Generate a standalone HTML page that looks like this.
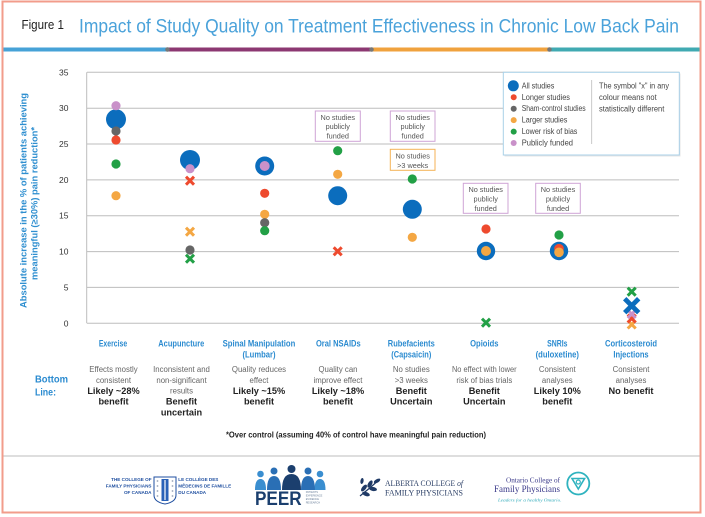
<!DOCTYPE html>
<html><head><meta charset="utf-8"><style>
html,body{margin:0;padding:0;background:#fff;}
svg{display:block;}
text{font-family:"Liberation Sans",sans-serif;}
text.serif{font-family:"Liberation Serif",serif;}
</style></head><body>
<svg width="705" height="517" viewBox="0 0 705 517" xmlns="http://www.w3.org/2000/svg">
<rect x="0" y="0" width="705" height="517" fill="#fff"/>
<!-- frame -->
<rect x="2.5" y="1.5" width="698" height="511" fill="none" stroke="#f29c8b" stroke-width="2"/>
<!-- title -->
<text x="21.5" y="29" font-size="12.5" fill="#222" textLength="42.5" lengthAdjust="spacingAndGlyphs">Figure 1</text>
<text x="79" y="32.5" font-size="19.5" fill="#4aa2da" textLength="600" lengthAdjust="spacingAndGlyphs">Impact of Study Quality on Treatment Effectiveness in Chronic Low Back Pain</text>
<!-- colour band -->
<rect x="3.5" y="47.5" width="164" height="4" fill="#46a2d7"/>
<rect x="167.5" y="47.5" width="204" height="4" fill="#8c3872"/>
<rect x="371.5" y="47.5" width="178" height="4" fill="#f0a23d"/>
<rect x="549.5" y="47.5" width="150" height="4" fill="#40aab2"/>
<circle cx="167.5" cy="49.5" r="2.3" fill="#777"/>
<circle cx="371.5" cy="49.5" r="2.3" fill="#777"/>
<circle cx="549.5" cy="49.5" r="2.3" fill="#777"/>

<!-- gridlines -->
<g stroke="#bdbdbd" stroke-width="1">
<line x1="87" y1="72.3" x2="679" y2="72.3"/>
<line x1="87" y1="108.2" x2="679" y2="108.2"/>
<line x1="87" y1="144.0" x2="679" y2="144.0"/>
<line x1="87" y1="179.9" x2="679" y2="179.9"/>
<line x1="87" y1="215.7" x2="679" y2="215.7"/>
<line x1="87" y1="251.6" x2="679" y2="251.6"/>
<line x1="87" y1="287.4" x2="679" y2="287.4"/>
<line x1="87" y1="323.3" x2="679" y2="323.3"/>
<line x1="86.7" y1="72.3" x2="86.7" y2="323.3"/>
</g>
<!-- tick labels -->
<g font-size="8.5" fill="#333" text-anchor="end" dominant-baseline="central">
<text x="68.5" y="72.3">35</text>
<text x="68.5" y="108.2">30</text>
<text x="68.5" y="144.0">25</text>
<text x="68.5" y="179.9">20</text>
<text x="68.5" y="215.7">15</text>
<text x="68.5" y="251.6">10</text>
<text x="68.5" y="287.4">5</text>
<text x="68.5" y="323.3">0</text>
</g>
<!-- y axis title -->
<g font-size="9.5" font-weight="bold" fill="#2f8fd0" text-anchor="middle" dominant-baseline="central">
<text transform="translate(24,200.5) rotate(-90)" textLength="215" lengthAdjust="spacingAndGlyphs">Absolute increase in the % of patients achieving</text>
<text transform="translate(35,203.5) rotate(-90)" textLength="153" lengthAdjust="spacingAndGlyphs">meaningful (≥30%) pain reduction*</text>
</g>

<!-- legend -->
<rect x="504.5" y="73.5" width="176" height="83" fill="#e6e6e6"/>
<rect x="503.3" y="72.3" width="176" height="82.7" fill="#fff" stroke="#a9d0e8" stroke-width="1"/>
<circle cx="513.3" cy="85.8" r="5.5" fill="#0b6dbd"/>
<circle cx="513.7" cy="97.3" r="3" fill="#ee4a2e"/>
<circle cx="513.7" cy="108.7" r="3" fill="#666"/>
<circle cx="513.7" cy="120.1" r="3" fill="#f4a743"/>
<circle cx="513.7" cy="131.6" r="3" fill="#22a046"/>
<circle cx="513.7" cy="143" r="3" fill="#c991c9"/>
<g font-size="8" fill="#444" dominant-baseline="central">
<text x="521.7" y="85.8" textLength="32.7" lengthAdjust="spacingAndGlyphs">All studies</text>
<text x="521.7" y="97.3" textLength="48.3" lengthAdjust="spacingAndGlyphs">Longer studies</text>
<text x="521.7" y="108.7" textLength="64" lengthAdjust="spacingAndGlyphs">Sham-control studies</text>
<text x="521.7" y="120.1" textLength="45.7" lengthAdjust="spacingAndGlyphs">Larger studies</text>
<text x="521.7" y="131.6" textLength="55.7" lengthAdjust="spacingAndGlyphs">Lower risk of bias</text>
<text x="521.7" y="143" textLength="51.3" lengthAdjust="spacingAndGlyphs">Publicly funded</text>
<text x="599" y="86" textLength="70" lengthAdjust="spacingAndGlyphs">The symbol "x" in any</text>
<text x="599" y="97.5" textLength="57.7" lengthAdjust="spacingAndGlyphs">colour means not</text>
<text x="599" y="109" textLength="65.3" lengthAdjust="spacingAndGlyphs">statistically different</text>
</g>
<line x1="591.7" y1="80" x2="591.7" y2="144" stroke="#bbb" stroke-width="0.8"/>

<!-- note boxes -->
<g fill="#fff" stroke-width="1">
<rect x="315.3" y="111" width="45" height="30.3" stroke="#cfa4d6"/>
<rect x="390.3" y="111" width="44.7" height="30.3" stroke="#cfa4d6"/>
<rect x="390.3" y="149.3" width="44.7" height="21" stroke="#f4b256"/>
<rect x="463.3" y="183.3" width="44.7" height="30" stroke="#cfa4d6"/>
<rect x="535.7" y="183.3" width="44.6" height="30" stroke="#cfa4d6"/>
</g>
<g font-size="7.3" fill="#555" text-anchor="middle" dominant-baseline="central">
<text x="337.8" y="117.3">No studies</text><text x="337.8" y="126.7">publicly</text><text x="337.8" y="136">funded</text>
<text x="412.7" y="117.3">No studies</text><text x="412.7" y="126.7">publicly</text><text x="412.7" y="136">funded</text>
<text x="412.7" y="156">No studies</text><text x="412.7" y="165.3">&gt;3 weeks</text>
<text x="485.7" y="189.6">No studies</text><text x="485.7" y="199">publicly</text><text x="485.7" y="208.3">funded</text>
<text x="558" y="189.6">No studies</text><text x="558" y="199">publicly</text><text x="558" y="208.3">funded</text>
</g>

<!-- data: Exercise -->
<circle cx="116" cy="119.3" r="10" fill="#0b6dbd"/>
<circle cx="116" cy="105.7" r="4.6" fill="#c991c9"/>
<circle cx="116" cy="131" r="4.6" fill="#666"/>
<circle cx="116" cy="140" r="4.6" fill="#ee4a2e"/>
<circle cx="116" cy="164" r="4.6" fill="#22a046"/>
<circle cx="116" cy="195.7" r="4.6" fill="#f4a743"/>
<!-- Acupuncture -->
<circle cx="190" cy="160" r="10" fill="#0b6dbd"/>
<circle cx="190" cy="168.7" r="4.6" fill="#c991c9"/>
<g stroke-width="3" stroke-linecap="butt">
<path d="M186,176.7 L194,184.7 M194,176.7 L186,184.7" stroke="#ee4a2e"/>
<path d="M186,227.7 L194,235.7 M194,227.7 L186,235.7" stroke="#f4a743"/>
</g>
<circle cx="190" cy="250" r="4.6" fill="#666"/>
<path d="M186,254.7 L194,262.7 M194,254.7 L186,262.7" stroke="#22a046" stroke-width="3"/>
<!-- Spinal manipulation -->
<circle cx="264.7" cy="166" r="9.5" fill="#0b6dbd"/>
<circle cx="264.7" cy="166" r="5" fill="#c991c9"/>
<circle cx="264.7" cy="193.3" r="4.6" fill="#ee4a2e"/>
<circle cx="264.7" cy="214.3" r="4.6" fill="#f4a743"/>
<circle cx="264.7" cy="222.7" r="4.6" fill="#666"/>
<circle cx="264.7" cy="230.7" r="4.6" fill="#22a046"/>
<!-- Oral NSAIDs -->
<circle cx="337.7" cy="150.7" r="4.6" fill="#22a046"/>
<circle cx="337.7" cy="174.3" r="4.6" fill="#f4a743"/>
<circle cx="337.7" cy="195.7" r="9.5" fill="#0b6dbd"/>
<path d="M333.7,247.3 L341.7,255.3 M341.7,247.3 L333.7,255.3" stroke="#ee4a2e" stroke-width="3"/>
<!-- Rubefacients -->
<circle cx="412.3" cy="179" r="4.6" fill="#22a046"/>
<circle cx="412.3" cy="209.3" r="9.5" fill="#0b6dbd"/>
<circle cx="412.3" cy="237.3" r="4.6" fill="#f4a743"/>
<!-- Opioids -->
<circle cx="486" cy="229" r="4.6" fill="#ee4a2e"/>
<circle cx="486" cy="251" r="9.2" fill="#0b6dbd"/>
<circle cx="486" cy="251" r="5" fill="#f4a743"/>
<path d="M482,318.7 L490,326.7 M490,318.7 L482,326.7" stroke="#22a046" stroke-width="3"/>
<!-- SNRIs -->
<circle cx="559" cy="235" r="4.6" fill="#22a046"/>
<circle cx="559" cy="251" r="9.2" fill="#0b6dbd"/>
<circle cx="559" cy="248.7" r="4.8" fill="#ee4a2e"/>
<circle cx="559" cy="252.3" r="4.8" fill="#f4a743"/>
<!-- Corticosteroid -->
<g stroke-width="3">
<path d="M627.7,320.5 L635.7,328.5 M635.7,320.5 L627.7,328.5" stroke="#f4a743"/>
<path d="M627.7,314.5 L635.7,322.5 M635.7,314.5 L627.7,322.5" stroke="#ee4a2e"/>
<path d="M627.7,310 L635.7,318 M635.7,310 L627.7,318" stroke="#c991c9"/>
</g>
<path d="M624.7,298.7 L638.7,312.7 M638.7,298.7 L624.7,312.7" stroke="#0b6dbd" stroke-width="4.8"/>
<path d="M627.7,287.7 L635.7,295.7 M635.7,287.7 L627.7,295.7" stroke="#22a046" stroke-width="3"/>

<!-- category labels -->
<g font-size="8.8" font-weight="bold" fill="#2b8bd0" text-anchor="middle" dominant-baseline="central">
<text x="113" y="343.3" textLength="28.3" lengthAdjust="spacingAndGlyphs">Exercise</text>
<text x="181.3" y="343.3" textLength="46" lengthAdjust="spacingAndGlyphs">Acupuncture</text>
<text x="259" y="343.3" textLength="72.7" lengthAdjust="spacingAndGlyphs">Spinal Manipulation</text>
<text x="259" y="354.3" textLength="33" lengthAdjust="spacingAndGlyphs">(Lumbar)</text>
<text x="338.3" y="343.3" textLength="44.7" lengthAdjust="spacingAndGlyphs">Oral NSAIDs</text>
<text x="411.3" y="343.3" textLength="47" lengthAdjust="spacingAndGlyphs">Rubefacients</text>
<text x="411.3" y="354.3" textLength="40" lengthAdjust="spacingAndGlyphs">(Capsaicin)</text>
<text x="484.3" y="343.3" textLength="28.3" lengthAdjust="spacingAndGlyphs">Opioids</text>
<text x="557.3" y="343.3" textLength="20.3" lengthAdjust="spacingAndGlyphs">SNRIs</text>
<text x="557.3" y="354.3" textLength="43.3" lengthAdjust="spacingAndGlyphs">(duloxetine)</text>
<text x="631" y="343.3" textLength="52" lengthAdjust="spacingAndGlyphs">Corticosteroid</text>
<text x="631" y="354.3" textLength="35.3" lengthAdjust="spacingAndGlyphs">Injections</text>
</g>
<!-- Bottom line -->
<g font-size="10.5" font-weight="bold" fill="#2b8bd0" dominant-baseline="central">
<text x="35" y="379.3" textLength="33" lengthAdjust="spacingAndGlyphs">Bottom</text>
<text x="35" y="392.7" textLength="21" lengthAdjust="spacingAndGlyphs">Line:</text>
</g>
<!-- descriptions -->
<g font-size="7.8" fill="#666" text-anchor="middle" dominant-baseline="central">
<text x="113.5" y="369.3">Effects mostly</text>
<text x="113.5" y="380.3">consistent</text>
<text x="181.5" y="369.3">Inconsistent and</text>
<text x="181.5" y="380.3">non-significant</text>
<text x="181.5" y="391">results</text>
<text x="259" y="369.3">Quality reduces</text>
<text x="259" y="380.3">effect</text>
<text x="338" y="369.3">Quality can</text>
<text x="338" y="380.3">improve effect</text>
<text x="411.3" y="369.3">No studies</text>
<text x="411.3" y="380.3">&gt;3 weeks</text>
<text x="484.3" y="369.3" textLength="64.7" lengthAdjust="spacingAndGlyphs">No effect with lower</text>
<text x="484.3" y="380.3">risk of bias trials</text>
<text x="557.3" y="369.3">Consistent</text>
<text x="557.3" y="380.3">analyses</text>
<text x="631" y="369.3">Consistent</text>
<text x="631" y="380.3">analyses</text>
</g>
<g font-size="9.2" font-weight="bold" fill="#222" text-anchor="middle" dominant-baseline="central">
<text x="113.5" y="391">Likely ~28%</text>
<text x="113.5" y="401.7">benefit</text>
<text x="181.5" y="401.7">Benefit</text>
<text x="181.5" y="412.3">uncertain</text>
<text x="259" y="391">Likely ~15%</text>
<text x="259" y="401.7">benefit</text>
<text x="338" y="391">Likely ~18%</text>
<text x="338" y="401.7">benefit</text>
<text x="411.3" y="391">Benefit</text>
<text x="411.3" y="401.7">Uncertain</text>
<text x="484.3" y="391">Benefit</text>
<text x="484.3" y="401.7">Uncertain</text>
<text x="557.3" y="391">Likely 10%</text>
<text x="557.3" y="401.7">benefit</text>
<text x="631" y="391">No benefit</text>
</g>
<text x="356" y="435" font-size="7.8" font-weight="bold" fill="#222" text-anchor="middle" dominant-baseline="central" textLength="260" lengthAdjust="spacingAndGlyphs">*Over control (assuming 40% of control have meaningful pain reduction)</text>

<!-- separator -->
<line x1="3.5" y1="456" x2="699.5" y2="456" stroke="#bdbdbd" stroke-width="1"/>

<!-- CFPC logo -->
<g font-size="4.6" font-weight="bold" fill="#1f4fa0">
<text x="151.5" y="481" text-anchor="end">THE COLLEGE OF</text>
<text x="151.5" y="487.5" text-anchor="end">FAMILY PHYSICIANS</text>
<text x="151.5" y="494" text-anchor="end">OF CANADA</text>
<text x="178.3" y="481">LE COLLÈGE DES</text>
<text x="178.3" y="487.5">MÉDECINS DE FAMILLE</text>
<text x="178.3" y="494">DU CANADA</text>
</g>
<path d="M154,477 L176,477 L176,495 Q176,502 165,504 Q154,502 154,495 Z" fill="#fff" stroke="#1f4fa0" stroke-width="1"/>
<rect x="161.5" y="479" width="7" height="22" fill="#2a62b8"/>
<line x1="165" y1="480" x2="165" y2="500" stroke="#fff" stroke-width="1.2"/>
<g fill="#9aa5b8"><circle cx="157.5" cy="481" r="0.9"/><circle cx="157.5" cy="486" r="0.9"/><circle cx="157.5" cy="491" r="0.9"/><circle cx="157.5" cy="496" r="0.9"/><circle cx="172.5" cy="481" r="0.9"/><circle cx="172.5" cy="486" r="0.9"/><circle cx="172.5" cy="491" r="0.9"/><circle cx="172.5" cy="496" r="0.9"/></g>

<!-- PEER logo -->
<g>
<circle cx="260.5" cy="474" r="3.3" fill="#3a8ed0"/>
<circle cx="274" cy="471" r="3.5" fill="#2a6fb5"/>
<circle cx="291.5" cy="469" r="4" fill="#1b3f6e"/>
<circle cx="308" cy="471" r="3.5" fill="#2a6fb5"/>
<circle cx="320" cy="474" r="3.3" fill="#3a8ed0"/>
<path d="M255,490 Q255,479 260.5,479 Q266,479 266,490 Z" fill="#3a8ed0"/>
<path d="M314.5,490 Q314.5,479 320,479 Q325.5,479 325.5,490 Z" fill="#3a8ed0"/>
<path d="M267,490 Q267,476 274,476 Q281,476 281,490 Z" fill="#2a6fb5"/>
<path d="M301,490 Q301,476 308,476 Q315,476 315,490 Z" fill="#2a6fb5"/>
<path d="M282,490 Q282,474 291.5,474 Q301,474 301,490 Z" fill="#1b3f6e"/>
<text x="255" y="505" font-size="19" font-weight="bold" fill="#1b3f6e" textLength="46.7" lengthAdjust="spacingAndGlyphs">PEER</text>
<g font-size="2.6" fill="#6a7f99"><text x="305.7" y="493">PATIENTS</text><text x="305.7" y="496.5">EXPERIENCE</text><text x="305.7" y="500">EVIDENCE</text><text x="305.7" y="503.5">RESEARCH</text></g>
</g>

<!-- Alberta logo -->
<g fill="#1f3a66">
<path d="M360,496 Q370,488 380,479" stroke="#1f3a66" stroke-width="1.2" fill="none"/>
<ellipse cx="364" cy="488" rx="4" ry="2" transform="rotate(-50 364 488)"/>
<ellipse cx="370" cy="484" rx="4" ry="2" transform="rotate(-60 370 484)"/>
<ellipse cx="366" cy="494" rx="4" ry="2" transform="rotate(20 366 494)"/>
<ellipse cx="373" cy="489" rx="4" ry="2" transform="rotate(10 373 489)"/>
<ellipse cx="377" cy="481" rx="3.5" ry="1.8" transform="rotate(-30 377 481)"/>
<ellipse cx="362" cy="481" rx="3" ry="1.6" transform="rotate(-80 362 481)"/>
</g>
<g fill="#2b3f66">
<text class="serif" x="385" y="486" font-size="8.5" textLength="78" lengthAdjust="spacingAndGlyphs">ALBERTA COLLEGE <tspan font-style="italic">of</tspan></text>
<text class="serif" x="385" y="495.5" font-size="8.5" textLength="78" lengthAdjust="spacingAndGlyphs">FAMILY PHYSICIANS</text>
</g>

<!-- Ontario logo -->
<g fill="#3b3a8a">
<text class="serif" x="560" y="482.5" font-size="7" text-anchor="end" textLength="54" lengthAdjust="spacingAndGlyphs">Ontario College of</text>
<text class="serif" x="560" y="492" font-size="9.5" text-anchor="end" textLength="66" lengthAdjust="spacingAndGlyphs">Family Physicians</text>
<text class="serif" x="561.5" y="501.5" font-size="4" font-style="italic" fill="#2aa8b8" text-anchor="end" textLength="63.5" lengthAdjust="spacingAndGlyphs">Leaders for a healthy Ontario.</text>
</g>
<circle cx="578.3" cy="483.5" r="11" fill="none" stroke="#2fb3bf" stroke-width="1.8"/>
<path d="M572,478.5 L584.6,478.5 L578.3,489 Z" fill="none" stroke="#2fb3bf" stroke-width="1.6"/>
<circle cx="578.3" cy="482" r="2" fill="none" stroke="#2fb3bf" stroke-width="1.2"/>
</svg>
</body></html>
